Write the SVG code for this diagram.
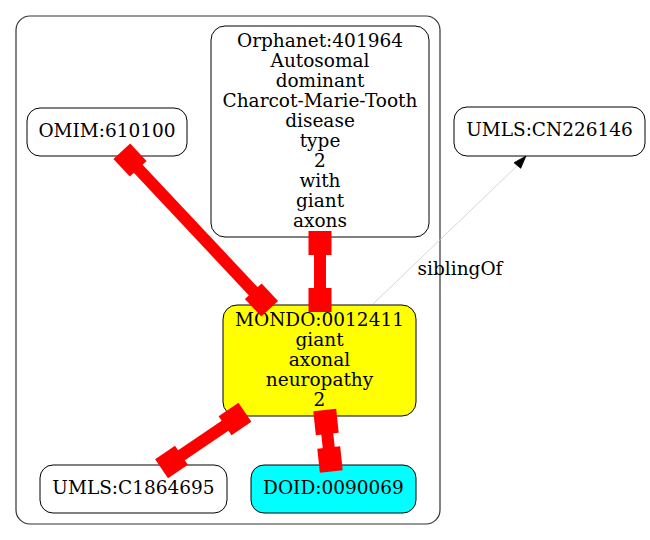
<svg xmlns="http://www.w3.org/2000/svg" width="650" height="540" viewBox="0 0 650 540">
<style>
.n{stroke:#000;stroke-width:1}
.t{font-family:"DejaVu Serif",serif;font-size:18.5px;text-anchor:middle;fill:#000}
.shaft{stroke:#f00;stroke-width:12;fill:none}
.box{fill:#f00}
</style>
<defs>
<rect id="bx" class="box" x="-12" y="-11.5" width="24" height="23"/>
</defs>
<rect width="650" height="540" fill="#fff"/>
<g id="cluster">
<rect x="16" y="16" width="424" height="508" rx="14" ry="14" fill="none" stroke="#333" stroke-width="1.2"/>
</g>
<g id="omim">
<rect class="n" x="27" y="108" width="160" height="48" rx="13" fill="#fff"/>
<text class="t" x="107" y="137">OMIM:610100</text>
</g>
<g id="orphanet">
<rect class="n" x="211" y="26" width="218" height="211" rx="14" fill="#fff"/>
<text class="t" x="320" y="47">Orphanet:401964</text>
<text class="t" x="320" y="67">Autosomal</text>
<text class="t" x="320" y="87">dominant</text>
<text class="t" x="320" y="107">Charcot-Marie-Tooth</text>
<text class="t" x="320" y="127">disease</text>
<text class="t" x="320" y="147">type</text>
<text class="t" x="320" y="167">2</text>
<text class="t" x="320" y="187">with</text>
<text class="t" x="320" y="207">giant</text>
<text class="t" x="320" y="227">axons</text>
</g>
<g id="umlscn">
<rect class="n" x="454" y="107" width="191" height="49" rx="13" fill="#fff"/>
<text class="t" x="549.5" y="136">UMLS:CN226146</text>
</g>
<g id="mondo">
<rect class="n" x="223" y="305" width="193" height="111" rx="14" fill="#ff0"/>
<text class="t" x="319.5" y="326">MONDO:0012411</text>
<text class="t" x="319.5" y="346">giant</text>
<text class="t" x="319.5" y="366">axonal</text>
<text class="t" x="319.5" y="386">neuropathy</text>
<text class="t" x="319.5" y="406">2</text>
</g>
<g id="umlsc">
<rect class="n" x="40" y="465" width="187" height="48" rx="13" fill="#fff"/>
<text class="t" x="133.5" y="494">UMLS:C1864695</text>
</g>
<g id="doid">
<rect class="n" x="251" y="465" width="165" height="48" rx="13" fill="#0ff"/>
<text class="t" x="333.5" y="494">DOID:0090069</text>
</g>
<g id="connectors">
<g id="e_omim">
<line class="shaft" x1="130" y1="160" x2="261.5" y2="300"/>
<use href="#bx" transform="translate(130,160) rotate(46.8)"/>
<use href="#bx" transform="translate(261.5,300) rotate(46.8)"/>
</g>
<g id="e_orpha">
<line class="shaft" x1="320" y1="243" x2="320" y2="300"/>
<use href="#bx" transform="translate(320,243) rotate(90)"/>
<use href="#bx" transform="translate(320,300) rotate(90)"/>
</g>
<g id="e_umlsc">
<line class="shaft" x1="235" y1="419" x2="171.5" y2="462"/>
<use href="#bx" transform="translate(235,419) rotate(145.9)"/>
<use href="#bx" transform="translate(171.5,462) rotate(145.9)"/>
</g>
<g id="e_doid">
<line class="shaft" x1="326" y1="422" x2="330" y2="459.5"/>
<use href="#bx" transform="translate(326,422) rotate(83.9)"/>
<use href="#bx" transform="translate(330,459.5) rotate(83.9)"/>
</g>
<g id="e_sibling">
<line x1="373" y1="304" x2="518" y2="165" stroke="#ccc" stroke-width="0.8"/>
<polygon points="526,156 514,162.7 520.7,168.3" fill="#000" stroke="#000" stroke-width="0.8"/>
<text class="t" x="460" y="275">siblingOf</text>
</g>
</g>
</svg>
